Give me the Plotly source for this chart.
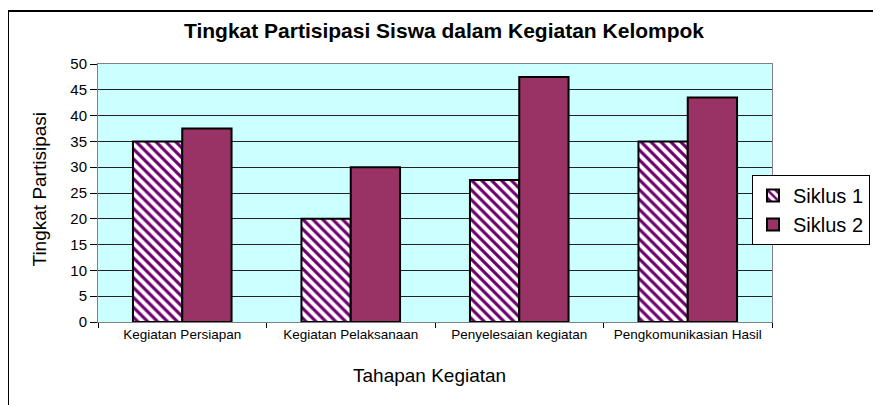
import plotly.graph_objects as go

categories = ["Kegiatan Persiapan", "Kegiatan Pelaksanaan", "Penyelesaian kegiatan", "Pengkomunikasian Hasil"]
siklus1 = [35, 20, 27.5, 35]
siklus2 = [37.5, 30, 47.5, 43.5]
series_names = ["Siklus 1", "Siklus 2"]
y_ticks = list(range(0, 51, 5))

OFF = 8  # page body margin
W, H = 881 - OFF, 405 - OFF
L, T = 98 - OFF, 64 - OFF
R = W - (772 - OFF)
B = H - (322 - OFF)
pw, ph = W - L - R, H - T - B


def px(x):
    return (x - OFF - L) / pw


def py(y):
    return 1 - (y - OFF - T) / ph


fig = go.Figure()
fig.add_trace(go.Bar(
    x=categories, y=siklus1, name=series_names[0], legendgroup="a",
    marker=dict(color="white", line=dict(color="black", width=2),
                pattern=dict(shape="\\", fgcolor="#6e006e", bgcolor="white", fgopacity=1,
                             size=7, solidity=0.45)),
))
fig.add_trace(go.Bar(
    x=categories, y=siklus2, name=series_names[1], legendgroup="b",
    marker=dict(color="#993366", line=dict(color="black", width=2)),
))

font = "Liberation Sans, Arial, sans-serif"
fig.update_layout(
    width=W, height=H,
    margin=dict(l=L, r=R, t=T, b=B, autoexpand=False),
    paper_bgcolor="white", plot_bgcolor="#ccffff",
    barmode="group", bargap=0.415, bargroupgap=0,
    font=dict(family=font, color="black"),
    title=dict(text="<b>Tingkat Partisipasi Siswa dalam Kegiatan Kelompok</b>",
               x=(444 - OFF) / W, xanchor="center", y=1 - (31 - OFF) / H, yanchor="middle",
               font=dict(size=21, family=font)),
    legend=dict(x=px(752), xanchor="left", y=py(175), yanchor="top",
                bgcolor="white", bordercolor="black", borderwidth=1,
                font=dict(size=20, family=font), tracegroupgap=0),
    showlegend=True,
)
fig.update_xaxes(
    type="category", tickson="boundaries", ticks="outside", ticklen=5, tickcolor="black",
    showline=True, linecolor="#808080", linewidth=1, mirror=True,
    tickfont=dict(size=13.5, family=font), showgrid=False,
)
fig.update_yaxes(
    range=[0, 50], tickvals=y_ticks, ticks="outside", ticklen=7, tickcolor="black",
    showline=True, linecolor="#808080", linewidth=1, mirror=True,
    showgrid=True, gridcolor="#222222", gridwidth=1, zeroline=False,
    tickfont=dict(size=15, family=font),
)
fig.add_annotation(text="Tingkat Partisipasi", xref="paper", yref="paper",
                   x=px(26), y=py(189), textangle=-90,
                   showarrow=False, font=dict(size=19, family=font))
fig.add_annotation(text="Tahapan Kegiatan", xref="paper", yref="paper",
                   x=px(429), y=py(388),
                   showarrow=False, font=dict(size=19, family=font))
# outer chart frame
fig.add_shape(type="rect", xref="paper", yref="paper",
              x0=px(8), x1=px(905), y0=py(425), y1=py(11),
              line=dict(color="black", width=2), layer="below")

fig.write_html("out.html")
